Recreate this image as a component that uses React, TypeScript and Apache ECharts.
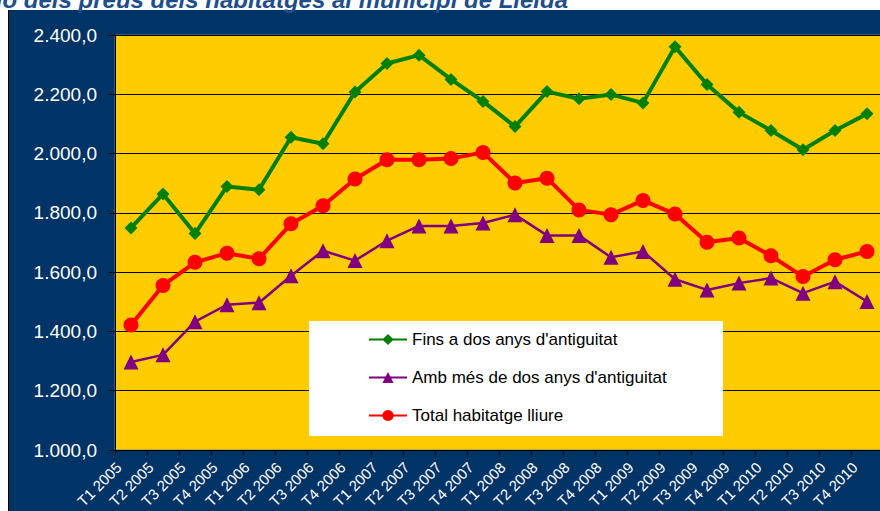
import React, { useEffect, useRef } from "react";
import * as echarts from "echarts";

const categories = [
  "T1 2005", "T2 2005", "T3 2005", "T4 2005",
  "T1 2006", "T2 2006", "T3 2006", "T4 2006",
  "T1 2007", "T2 2007", "T3 2007", "T4 2007",
  "T1 2008", "T2 2008", "T3 2008", "T4 2008",
  "T1 2009", "T2 2009", "T3 2009", "T4 2009",
  "T1 2010", "T2 2010", "T3 2010", "T4 2010",
];

const finsDosAnys = [1749, 1864, 1730, 1889, 1878, 2055, 2033, 2208, 2304, 2332, 2250, 2176, 2091, 2209, 2185, 2199, 2171, 2360, 2233, 2139, 2078, 2013, 2078, 2134];
const mesDeDosAnys = [1297, 1321, 1433, 1490, 1497, 1588, 1672, 1639, 1706, 1756, 1756, 1766, 1794, 1724, 1724, 1650, 1670, 1576, 1540, 1563, 1580, 1529, 1568, 1501];
const totalLliure = [1422, 1555, 1633, 1664, 1645, 1763, 1824, 1914, 1979, 1979, 1983, 2004, 1901, 1917, 1810, 1794, 1842, 1796, 1701, 1715, 1655, 1585, 1642, 1670];

const seriesNames = [
  "Fins a dos anys d'antiguitat",
  "Amb més de dos anys d'antiguitat",
  "Total habitatge lliure",
];

const titleText = "Evolució dels preus dels habitatges al municipi de Lleida";

const yMin = 1000;
const yMax = 2400;
const yStep = 200;

const FONT = "'Liberation Sans', Arial, sans-serif";

function fmt(v: number): string {
  const s = Math.round(v).toString();
  const withDots = s.replace(/\B(?=(\d{3})+(?!\d))/g, ".");
  return withDots + ",0";
}

export default function App() {
  const ref = useRef<HTMLDivElement>(null);
  useEffect(() => {
    if (!ref.current) return;
    const chart = echarts.init(ref.current, null, { renderer: "svg" });
    chart.setOption({
      animation: false,
      backgroundColor: "#003366",
      textStyle: { fontFamily: FONT },
      graphic: [
        { type: "rect", z: 1, shape: { x: 0, y: 0, width: 880, height: 10 }, style: { fill: "#ffffff" } },
        { type: "rect", z: 1, shape: { x: 0, y: 0, width: 8, height: 511 }, style: { fill: "#ffffff" } },
        { type: "line", z: 1, shape: { x1: 8.5, y1: 10, x2: 8.5, y2: 511 }, style: { stroke: "#000000", lineWidth: 1 } },
        {
          type: "text",
          z: 2,
          x: 568,
          y: 11,
          style: {
            text: titleText,
            fill: "#1F4E8C",
            font: "italic bold 24px " + FONT,
            align: "right",
            verticalAlign: "bottom",
          },
        },
        { type: "rect", z: 3, shape: { x: 309, y: 321, width: 414, height: 115 }, style: { fill: "#ffffff" } },
      ],
      grid: {
        left: 115,
        top: 35,
        width: 768,
        height: 415,
        show: true,
        containLabel: false,
        outerBoundsMode: "none",
        backgroundColor: "#FFCC00",
        borderColor: "#808080",
        borderWidth: 1,
      },
      legend: {
        orient: "vertical",
        left: 368,
        top: 331,
        padding: 0,
        itemWidth: 38,
        itemHeight: 14,
        itemGap: 21,
        z: 10,
        data: seriesNames,
        textStyle: { fontFamily: FONT, fontSize: 17, color: "#000000" },
      },
      xAxis: {
        type: "category",
        data: categories,
        boundaryGap: true,
        axisLine: { lineStyle: { color: "#000000", width: 1 } },
        axisTick: { show: true, length: 5, lineStyle: { color: "#000000" } },
        axisLabel: {
          rotate: 45,
          interval: 0,
          color: "#ffffff",
          fontFamily: FONT,
          fontSize: 15,
          margin: 13,
          verticalAlign: "bottom",
          padding: [0, 10, 0, 0],
        },
        splitLine: { show: false },
      },
      yAxis: {
        type: "value",
        min: yMin,
        max: yMax,
        interval: yStep,
        axisLine: { show: true, lineStyle: { color: "#000000", width: 1 } },
        axisTick: { show: true, length: 6, lineStyle: { color: "#000000" } },
        axisLabel: {
          color: "#ffffff",
          fontFamily: FONT,
          fontSize: 19,
          margin: 18,
          formatter: (v: number) => fmt(v),
        },
        splitLine: { show: true, lineStyle: { color: "#000000", width: 1.2 } },
      },
      series: [
        {
          name: seriesNames[0],
          type: "line",
          data: finsDosAnys,
          symbol: "diamond",
          symbolSize: 13,
          lineStyle: { color: "#008000", width: 4 },
          itemStyle: { color: "#008000" },
          z: 3,
        },
        {
          name: seriesNames[1],
          type: "line",
          data: mesDeDosAnys,
          symbol: "triangle",
          symbolSize: 15,
          lineStyle: { color: "#800080", width: 2.5 },
          itemStyle: { color: "#800080" },
          z: 3,
        },
        {
          name: seriesNames[2],
          type: "line",
          data: totalLliure,
          symbol: "circle",
          symbolSize: 15,
          lineStyle: { color: "#FF0000", width: 4 },
          itemStyle: { color: "#FF0000" },
          z: 4,
        },
      ],
    });
    return () => chart.dispose();
  }, []);
  return (
    <div
      ref={ref}
      style={{ position: "absolute", left: 0, top: 0, width: 880, height: 511 }}
    />
  );
}
